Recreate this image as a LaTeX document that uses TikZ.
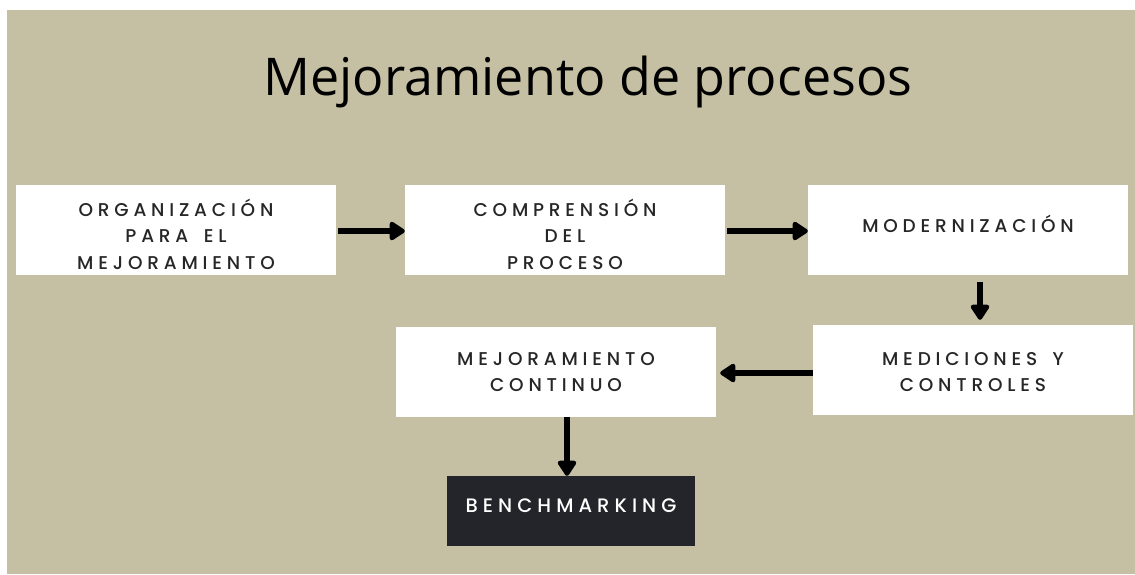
\documentclass[tikz,border=0pt]{standalone}
\usepackage{fontspec}
\usepackage{tikz}
\usetikzlibrary{calc,arrows.meta}
\newfontfamily\titlefont{Open Sans}
\newfontfamily\boxfont[LetterSpace=26, WordSpace=1.6, UprightFont={* Medium}]{Poppins}
\definecolor{sand}{HTML}{C5C0A3}
\definecolor{ink}{HTML}{24252A}
% first baseline of the lines sits #1 above the box centre
\newcommand{\boxlines}[2]{\smash{\raisebox{#1}{\begin{tabular}[t]{@{}c@{}}#2\end{tabular}}}}
\tikzset{
	stepbox/.style={fill=white, minimum width=320pt, minimum height=90pt, inner sep=0pt, font=\boxfont\fontsize{18.5}{26.5}\selectfont, text=black!85},
	darkbox/.style={fill=ink, minimum width=248pt, minimum height=70pt, inner sep=0pt, font=\boxfont\fontsize{19.5}{26.5}\selectfont, text=white},
	flow/.style={line width=5.5pt, -{Triangle[length=17pt,width=21pt,round]}}
}

\begin{document}
\begin{tikzpicture}[x=1pt, y=-1pt]
			%%%%% START %%%%%
			
			\useasboundingbox (0, 0) rectangle (1135, 574);
			\fill[white] (0, 0) rectangle (1135, 574);
			\fill[sand] (7, 10) rectangle (1135, 574);
			
			\node[font=\titlefont\fontsize{52}{60}\selectfont] (title) at (588, 82) {Mejoramiento de procesos};
			
			\node[stepbox] (org) at (176, 230) {\boxlines{14pt}{ORGANIZACIÓN\\PARA EL\\MEJORAMIENTO}};
			\node[stepbox] (comp) at (565, 230) {\boxlines{14pt}{COMPRENSIÓN\\DEL\\PROCESO}};
			\node[stepbox] (mod) at (968, 230) {\boxlines{-2pt}{MODERNIZACIÓN}};
			\node[stepbox] (med) at (973, 370) {\boxlines{5pt}{MEDICIONES Y\\CONTROLES}};
			\node[stepbox] (mej) at (556, 371.5) {\boxlines{6.5pt}{MEJORAMIENTO\\CONTINUO}};
			\node[darkbox] (bench) at (571, 511) {\boxlines{-1pt}{BENCHMARKING}};
			
			\draw[flow] ($(org.east)+(2, 1)$) -- ($(comp.west)+(0, 1)$);
			\draw[flow] ($(comp.east)+(2, 1)$) -- ($(mod.west)+(0, 1)$);
			\draw[flow] ($(mod.south)+(12, 7)$) -- ($(med.north)+(7, -5)$);
			\draw[flow] ($(med.west)+(0, 3)$) -- ($(mej.east)+(4, 1.5)$);
			\draw[flow] ($(mej.south)+(11, 0)$) -- ($(bench.north)+(-4, 0)$);
			
			%%%%% END %%%%%
\end{tikzpicture}
\end{document}
